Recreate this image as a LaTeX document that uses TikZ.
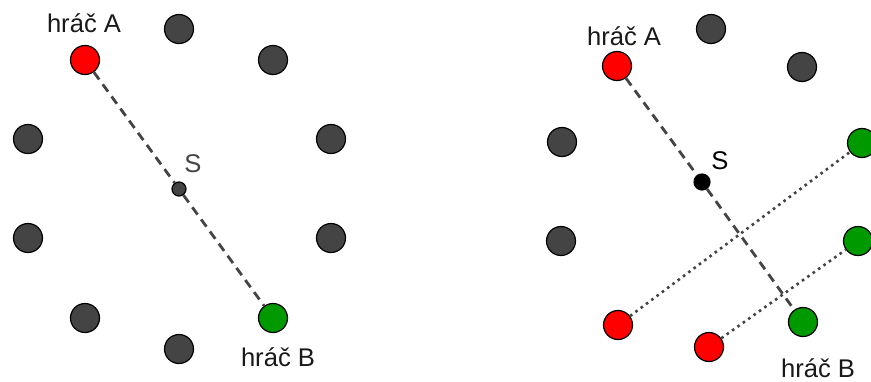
\documentclass[tikz,border=0pt]{standalone}
\usepackage{fontspec}
\setmainfont{Liberation Sans}
\usepackage{tikz}
\usetikzlibrary{positioning}
\definecolor{dotgray}{HTML}{444444}
\definecolor{pgreen}{HTML}{009900}
\tikzstyle{dotNode} = [circle, minimum size=14.5pt, inner sep=0pt, draw=black, line width=0.6pt, fill=dotgray]
\tikzstyle{dotNodeR} = [dotNode, fill=red]
\tikzstyle{dotNodeG} = [dotNode, fill=pgreen]
\tikzstyle{cNode} = [dotNode, minimum size=7pt]
\tikzstyle{lblNode} = [anchor=base, inner sep=0pt, font=\fontsize{12.8}{15}\selectfont, text=black!90]
\tikzstyle{lineD} = [line width=1.4pt, dash pattern=on 4.5pt off 3pt, draw=dotgray]
\tikzstyle{lineP} = [line width=1.3pt, dash pattern=on 1.3pt off 2pt, draw=dotgray]

\begin{document}
\begin{tikzpicture}[x=0.5pt, y=-0.5pt]
    \useasboundingbox (0,0) rectangle (871,381);
    % left circle
    \node (a1) [dotNodeR] at (85,60) {};
    \node (t1) [dotNode] at (179,29) {};
    \node (tr1) [dotNode] at (273,60) {};
    \node (l1) [dotNode] at (28,139) {};
    \node (l2) [dotNode] at (28,238) {};
    \node (r1) [dotNode] at (331,139) {};
    \node (r2) [dotNode] at (331,238) {};
    \node (bl1) [dotNode] at (85,318) {};
    \node (bt1) [dotNode] at (179,349) {};
    \node (b1) [dotNodeG] at (273,318) {};
    \node (s1) [cNode] at (179,189) {};
    \node (lblA1) [lblNode] at (84,32) {hráč A};
    \node (lblS1) [lblNode, text=dotgray] at (193,172) {S};
    \node (lblB1) [lblNode] at (278,366) {hráč B};

    \draw [lineD] (a1) -- (s1) -- (b1);

    % right circle
    \node (a2) [dotNodeR] at (617,66) {};
    \node (t2) [dotNode] at (711,29) {};
    \node (tr2) [dotNode] at (802,67) {};
    \node (l3) [dotNode] at (562,142) {};
    \node (l4) [dotNode] at (561,241) {};
    \node (g1) [dotNodeG] at (862,143) {};
    \node (g2) [dotNodeG] at (858,241) {};
    \node (rr1) [dotNodeR] at (618,325) {};
    \node (rr2) [dotNodeR] at (709,347) {};
    \node (b2) [dotNodeG] at (803,322) {};
    \node (s2) [cNode, fill=black, minimum size=8pt] at (702,182) {};
    \node (lblA2) [lblNode] at (624,45) {hráč A};
    \node (lblS2) [lblNode, text=black] at (720,169) {S};
    \node (lblB2) [lblNode] at (818,377) {hráč B};

    \draw [lineD] (a2) -- (s2) -- (b2);
    \draw [lineP] (rr1) -- (g1);
    \draw [lineP] (rr2) -- (g2);

\end{tikzpicture}
\end{document}
